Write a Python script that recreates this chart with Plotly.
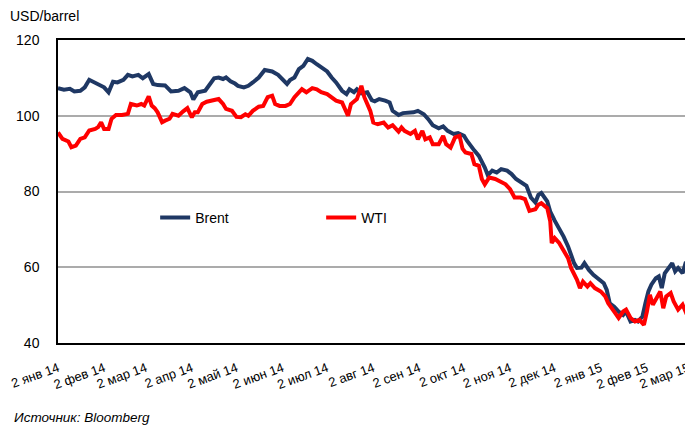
import plotly.graph_objects as go

# Brent, USD/barrel
brent_dates = [
    '2014-01-02', '2014-01-06', '2014-01-10', '2014-01-13', '2014-01-17', '2014-01-20', '2014-01-23',
    '2014-01-27', '2014-01-30', '2014-02-02', '2014-02-05', '2014-02-08', '2014-02-11', '2014-02-15',
    '2014-02-18', '2014-02-21', '2014-02-25', '2014-02-28', '2014-03-04', '2014-03-07', '2014-03-10',
    '2014-03-15', '2014-03-19', '2014-03-24', '2014-03-28', '2014-04-01', '2014-04-03', '2014-04-06',
    '2014-04-11', '2014-04-14', '2014-04-17', '2014-04-20', '2014-04-23', '2014-04-25', '2014-04-28',
    '2014-05-01', '2014-05-03', '2014-05-07', '2014-05-10', '2014-05-13', '2014-05-17', '2014-05-21',
    '2014-05-26', '2014-05-30', '2014-06-02', '2014-06-05', '2014-06-07', '2014-06-10', '2014-06-13',
    '2014-06-16', '2014-06-19', '2014-06-22', '2014-06-25', '2014-06-28', '2014-07-02', '2014-07-05',
    '2014-07-08', '2014-07-12', '2014-07-15', '2014-07-17', '2014-07-20', '2014-07-22', '2014-07-25',
    '2014-07-29', '2014-08-01', '2014-08-03', '2014-08-06', '2014-08-10', '2014-08-13', '2014-08-15',
    '2014-08-19', '2014-08-22', '2014-08-26', '2014-08-29', '2014-09-01', '2014-09-05', '2014-09-08',
    '2014-09-11', '2014-09-15', '2014-09-18', '2014-09-21', '2014-09-25', '2014-09-28', '2014-10-02',
    '2014-10-04', '2014-10-07', '2014-10-09', '2014-10-12', '2014-10-14', '2014-10-16', '2014-10-18',
    '2014-10-21', '2014-10-24', '2014-10-27', '2014-10-31', '2014-11-03', '2014-11-06', '2014-11-10',
    '2014-11-13', '2014-11-16', '2014-11-19', '2014-11-21', '2014-11-23', '2014-11-27', '2014-11-29',
    '2014-12-02', '2014-12-05', '2014-12-08', '2014-12-11', '2014-12-15', '2014-12-17', '2014-12-20',
    '2014-12-22', '2014-12-25', '2014-12-28', '2014-12-31', '2015-01-04', '2015-01-06', '2015-01-08',
    '2015-01-11', '2015-01-14', '2015-01-17', '2015-01-19', '2015-01-22', '2015-01-25', '2015-01-27',
    '2015-01-30', '2015-02-01', '2015-02-03', '2015-02-05', '2015-02-08', '2015-02-10', '2015-02-12',
    '2015-02-14', '2015-02-17', '2015-02-19', '2015-02-21', '2015-02-23', '2015-02-26', '2015-02-28',
    '2015-03-02', '2015-03-05',
]
brent = [
    107.3, 106.9, 107.1, 106.4, 106.6, 107.5, 109.5,
    108.8, 108.1, 107.5, 106.2, 109.0, 108.8, 109.5,
    110.8, 110.4, 110.8, 109.9, 111.0, 108.4, 108.1,
    108.0, 106.4, 106.6, 107.3, 106.2, 104.3, 106.2,
    106.6, 108.4, 109.9, 110.1, 109.7, 110.1, 109.1,
    108.5, 107.9, 107.5, 107.9, 108.8, 110.1, 112.1,
    111.7, 110.8, 109.4, 108.4, 109.4, 110.1, 112.3,
    113.2, 115.0, 114.5, 113.6, 112.9, 111.7, 110.1,
    108.8, 106.6, 105.7, 107.0, 106.2, 107.0, 105.9,
    106.2, 104.1, 103.8, 104.4, 104.0, 103.5, 101.3,
    100.2, 100.7, 100.7, 100.9, 101.3, 100.4, 99.1,
    97.5, 96.7, 97.2, 96.0, 95.2, 95.4, 94.7,
    93.4, 91.6, 90.8, 89.4, 88.1, 86.3, 84.3,
    85.5, 85.0, 85.9, 85.5, 84.6, 83.3, 82.4,
    81.5, 78.4, 77.1, 79.1, 79.6, 77.4, 74.7,
    72.3, 70.3, 68.1, 65.5, 61.1, 59.8, 59.9,
    61.1, 59.3, 58.0, 57.1, 55.8, 54.0, 50.5,
    49.6, 48.3, 47.4, 48.3, 45.7, 46.1, 45.7,
    47.0, 50.5, 53.6, 55.4, 57.1, 57.6, 54.5,
    58.4, 59.9, 61.1, 58.9, 59.8, 58.4, 61.1,
    61.5, 61.1,
]

# WTI, USD/barrel
wti_dates = [
    '2014-01-02', '2014-01-05', '2014-01-09', '2014-01-11', '2014-01-14', '2014-01-17', '2014-01-20',
    '2014-01-23', '2014-01-27', '2014-01-29', '2014-01-31', '2014-02-02', '2014-02-05', '2014-02-07',
    '2014-02-10', '2014-02-14', '2014-02-18', '2014-02-20', '2014-02-24', '2014-02-27', '2014-03-01',
    '2014-03-04', '2014-03-06', '2014-03-08', '2014-03-10', '2014-03-13', '2014-03-15', '2014-03-18',
    '2014-03-20', '2014-03-24', '2014-03-27', '2014-03-30', '2014-04-02', '2014-04-04', '2014-04-06',
    '2014-04-09', '2014-04-12', '2014-04-15', '2014-04-20', '2014-04-23', '2014-04-25', '2014-04-29',
    '2014-05-02', '2014-05-05', '2014-05-08', '2014-05-10', '2014-05-13', '2014-05-17', '2014-05-20',
    '2014-05-23', '2014-05-26', '2014-05-28', '2014-05-31', '2014-06-04', '2014-06-07', '2014-06-10',
    '2014-06-13', '2014-06-15', '2014-06-18', '2014-06-22', '2014-06-25', '2014-06-28', '2014-07-02',
    '2014-07-05', '2014-07-08', '2014-07-12', '2014-07-15', '2014-07-16', '2014-07-18', '2014-07-22',
    '2014-07-25', '2014-07-27', '2014-07-31', '2014-08-02', '2014-08-05', '2014-08-09', '2014-08-12',
    '2014-08-15', '2014-08-19', '2014-08-21', '2014-08-23', '2014-08-27', '2014-08-30', '2014-09-01',
    '2014-09-04', '2014-09-06', '2014-09-09', '2014-09-11', '2014-09-15', '2014-09-18', '2014-09-20',
    '2014-09-23', '2014-09-26', '2014-09-29', '2014-10-01', '2014-10-03', '2014-10-07', '2014-10-09',
    '2014-10-12', '2014-10-14', '2014-10-16', '2014-10-19', '2014-10-23', '2014-10-26', '2014-10-30',
    '2014-11-02', '2014-11-05', '2014-11-09', '2014-11-12', '2014-11-15', '2014-11-19', '2014-11-21',
    '2014-11-23', '2014-11-27', '2014-11-29', '2014-11-30', '2014-12-02', '2014-12-05', '2014-12-08',
    '2014-12-11', '2014-12-13', '2014-12-17', '2014-12-19', '2014-12-21', '2014-12-24', '2014-12-26',
    '2014-12-29', '2015-01-02', '2015-01-05', '2015-01-07', '2015-01-11', '2015-01-14', '2015-01-17',
    '2015-01-19', '2015-01-22', '2015-01-25', '2015-01-28', '2015-01-31', '2015-02-02', '2015-02-04',
    '2015-02-06', '2015-02-09', '2015-02-11', '2015-02-13', '2015-02-15', '2015-02-18', '2015-02-20',
    '2015-02-23', '2015-02-26', '2015-02-28', '2015-03-03', '2015-03-05',
]
wti = [
    95.6, 93.9, 93.2, 91.7, 92.1, 93.9, 94.3,
    96.1, 96.5, 97.0, 98.3, 96.5, 96.5, 99.2,
    100.2, 100.2, 100.5, 103.1, 102.7, 103.1, 102.7,
    105.1, 102.7, 102.0, 100.9, 98.3, 98.7, 99.2,
    100.5, 100.0, 101.1, 102.0, 99.6, 100.9, 100.9,
    103.1, 103.7, 104.0, 104.4, 103.1, 101.8, 101.3,
    99.7, 99.6, 100.4, 100.0, 101.3, 102.4, 102.6,
    104.9, 105.3, 103.1, 102.6, 102.6, 103.1, 104.9,
    106.2, 107.0, 106.2, 107.3, 107.0, 106.2, 105.7,
    104.7, 104.0, 103.5, 100.9, 100.0, 103.1, 104.4,
    107.9, 104.9, 101.3, 98.2, 97.8, 98.2, 96.9,
    97.5, 95.8, 96.9, 96.0, 95.2, 96.0, 93.8,
    96.0, 93.8, 94.3, 92.5, 92.5, 94.7, 92.5,
    91.6, 94.3, 94.7, 91.3, 90.3, 89.9, 87.2,
    86.8, 83.3, 81.9, 83.7, 83.3, 82.8, 81.9,
    80.6, 78.4, 78.4, 78.0, 74.9, 75.3, 76.5,
    76.9, 75.6, 72.1, 66.4, 67.7, 66.4, 64.6,
    62.4, 59.8, 56.7, 54.5, 56.2, 54.9, 55.8,
    54.5, 53.6, 52.3, 50.5, 48.3, 46.6, 48.3,
    48.8, 46.6, 45.7, 46.1, 44.8, 48.3, 52.7,
    50.1, 52.3, 53.6, 49.2, 52.3, 53.2, 51.0,
    48.8, 50.1, 48.3, 49.6, 50.5,
]

tick_dates = ['2014-01-02', '2014-02-02', '2014-03-02', '2014-04-02', '2014-05-02', '2014-06-02',
              '2014-07-02', '2014-08-02', '2014-09-02', '2014-10-02', '2014-11-02', '2014-12-02',
              '2015-01-02', '2015-02-02', '2015-03-02']
tick_labels = ['2 янв 14', '2 фев 14', '2 мар 14', '2 апр 14', '2 май 14', '2 июн 14',
               '2 июл 14', '2 авг 14', '2 сен 14', '2 окт 14', '2 ноя 14', '2 дек 14',
               '2 янв 15', '2 фев 15', '2 мар 15']
y_ticks = [40, 60, 80, 100, 120]

FONT = 'Liberation Sans, Arial, sans-serif'

fig = go.Figure()
fig.add_trace(go.Scatter(x=brent_dates, y=brent, name='Brent', mode='lines',
                         line=dict(color='#1F3864', width=4)))
fig.add_trace(go.Scatter(x=wti_dates, y=wti, name='WTI', mode='lines',
                         line=dict(color='#FF0000', width=4)))

fig.update_xaxes(type='date', range=['2014-01-02', '2015-03-05'],
                 tickvals=tick_dates, ticktext=tick_labels, tickangle=-20,
                 tickfont=dict(size=13, color='black', family=FONT),
                 showgrid=False, showline=True, linecolor='black', linewidth=1.5,
                 mirror=True, ticks='', ticklabelstandoff=11, zeroline=False,
                 automargin=False, ticklabeloverflow='allow')
fig.update_yaxes(range=[40, 120], tickvals=y_ticks,
                 tickfont=dict(size=14, color='black', family=FONT),
                 showgrid=True, gridcolor='#ABABAB', gridwidth=1.5,
                 showline=True, linecolor='black', linewidth=1.5,
                 ticks='', ticklabelstandoff=14, zeroline=False, automargin=False)

fig.add_annotation(text='USD/barrel', xref='paper', yref='paper', x=-0.079, y=1.079,
                   xanchor='left', yanchor='middle', showarrow=False,
                   font=dict(size=14, color='black', family=FONT))
fig.add_annotation(text='<i>Источник: Bloomberg</i>', xref='paper', yref='paper',
                   x=-0.072, y=-0.2475, xanchor='left', yanchor='middle', showarrow=False,
                   font=dict(size=13.5, color='black', family=FONT))

# the page body keeps its default 8px margin, so the figure is drawn 8px smaller
fig.update_layout(width=685, height=423, margin=dict(l=50, r=0, t=32, b=88),
                  plot_bgcolor='white', paper_bgcolor='white',
                  font=dict(family=FONT, color='black'),
                  legend=dict(orientation='h', x=0.153, y=0.4125, xanchor='left', yanchor='middle',
                              entrywidth=121, font=dict(size=14, color='black', family=FONT),
                              bgcolor='rgba(0,0,0,0)'),
                  showlegend=True)

fig.write_html('out.html')
